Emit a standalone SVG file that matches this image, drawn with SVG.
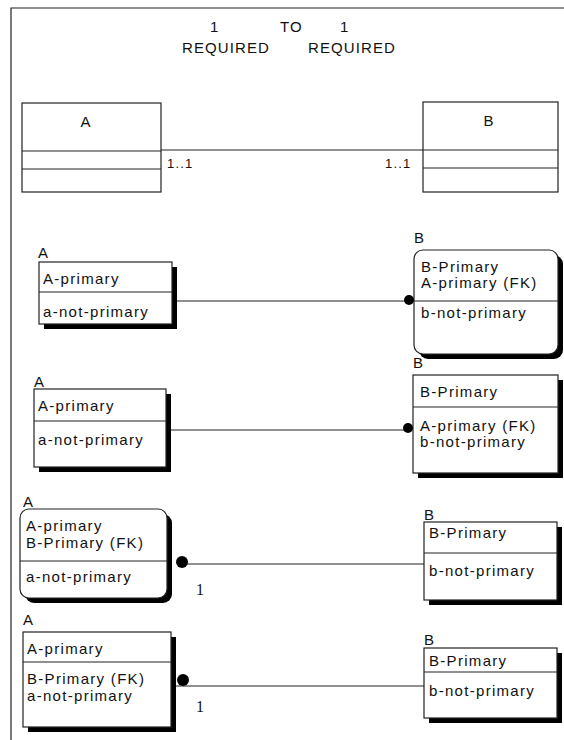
<svg xmlns="http://www.w3.org/2000/svg" width="564" height="740" viewBox="0 0 564 740">
<style>
  text { font-family: "Liberation Sans", Arial, sans-serif; fill: #111; }
  .t { font-size: 15px; letter-spacing: 1.1px; }
  .f { font-size: 15px; letter-spacing: 1.3px; }
  .c { font-size: 13px; letter-spacing: 1.2px; }
  .n { font-family: "Liberation Serif", serif; font-size: 16px; }
  .box { fill: #fff; stroke: #222; stroke-width: 1.2; }
  .sh { fill: #000; }
  .ln { stroke: #222; stroke-width: 1.2; fill: none; }
  .dot { fill: #000; }
</style>
<rect x="0" y="0" width="564" height="740" fill="#fff"/>
<g id="frame">
  <path d="M11,740 V8 H564" class="ln" stroke-width="2"/>
</g>
<g id="title">
  <text class="t" x="210" y="32">1</text>
  <text class="t" x="280" y="32">TO</text>
  <text class="t" x="340" y="32">1</text>
  <text class="t" x="182" y="53">REQUIRED</text>
  <text class="t" x="308" y="53">REQUIRED</text>
</g>
<g id="top-A">
  <rect class="box" x="22" y="103" width="139" height="89"/>
  <path class="ln" d="M22,151 H161 M22,169 H161"/>
  <text class="t" x="86" y="127" text-anchor="middle">A</text>
</g>
<g id="top-B">
  <rect class="box" x="423" y="102" width="135" height="90"/>
  <path class="ln" d="M423,150 H558 M423,168 H558"/>
  <text class="t" x="489" y="126" text-anchor="middle">B</text>
</g>
<g id="row2-A">
  <text class="f" x="38" y="258">A</text>
  <rect class="sh" x="44" y="267" width="133" height="62"/>
  <rect class="box" x="39" y="262" width="133" height="62"/>
  <path class="ln" d="M39,292 H172"/>
  <text class="f" x="43" y="284">A-primary</text>
  <text class="f" x="43" y="317">a-not-primary</text>
</g>
<g id="row2-B">
  <text class="f" x="414" y="243">B</text>
  <rect class="sh" x="419" y="255" width="144" height="104" rx="9"/>
  <rect class="box" x="414" y="250" width="144" height="104" rx="9"/>
  <path class="ln" d="M414,301 H558"/>
  <text class="f" x="421" y="272">B-Primary</text>
  <text class="f" x="421" y="288">A-primary (FK)</text>
  <text class="f" x="421" y="318">b-not-primary</text>
</g>
<g id="row3-A">
  <text class="f" x="34" y="387">A</text>
  <rect class="sh" x="39" y="394" width="132" height="78"/>
  <rect class="box" x="34" y="389" width="132" height="78"/>
  <path class="ln" d="M34,421 H166"/>
  <text class="f" x="38" y="411">A-primary</text>
  <text class="f" x="38" y="445">a-not-primary</text>
</g>
<g id="row3-B">
  <text class="f" x="413" y="368">B</text>
  <rect class="sh" x="418" y="380" width="145" height="98"/>
  <rect class="box" x="413" y="375" width="145" height="98"/>
  <path class="ln" d="M413,407 H558"/>
  <text class="f" x="420" y="397">B-Primary</text>
  <text class="f" x="420" y="431">A-primary (FK)</text>
  <text class="f" x="420" y="447">b-not-primary</text>
</g>
<g id="row4-A">
  <text class="f" x="23" y="507">A</text>
  <rect class="sh" x="25" y="514" width="147" height="89" rx="9"/>
  <rect class="box" x="20" y="509" width="147" height="89" rx="9"/>
  <path class="ln" d="M20,561 H167"/>
  <text class="f" x="26" y="531">A-primary</text>
  <text class="f" x="26" y="548">B-Primary (FK)</text>
  <text class="f" x="26" y="582">a-not-primary</text>
</g>
<g id="row4-B">
  <text class="f" x="424" y="520">B</text>
  <rect class="sh" x="429" y="527" width="133" height="78"/>
  <rect class="box" x="424" y="522" width="133" height="78"/>
  <path class="ln" d="M424,553 H557"/>
  <text class="f" x="429" y="538">B-Primary</text>
  <text class="f" x="429" y="576">b-not-primary</text>
</g>
<g id="row5-A">
  <text class="f" x="23" y="625">A</text>
  <rect class="sh" x="28" y="637" width="148" height="95"/>
  <rect class="box" x="23" y="632" width="148" height="95"/>
  <path class="ln" d="M23,662 H171"/>
  <text class="f" x="27" y="654">A-primary</text>
  <text class="f" x="27" y="684">B-Primary (FK)</text>
  <text class="f" x="27" y="701">a-not-primary</text>
</g>
<g id="row5-B">
  <text class="f" x="424" y="645">B</text>
  <rect class="sh" x="429" y="653" width="133" height="70"/>
  <rect class="box" x="424" y="648" width="133" height="70"/>
  <path class="ln" d="M424,672 H557"/>
  <text class="f" x="429" y="666">B-Primary</text>
  <text class="f" x="429" y="696">b-not-primary</text>
</g>
<g id="connectors">
  <path class="ln" d="M177,301 H408"/>
  <text class="c" x="167" y="168">1..1</text>
  <text class="c" x="385" y="168">1..1</text>
  <path class="ln" d="M161,150 H423"/>
  <circle class="dot" cx="409" cy="300" r="5"/>
  <path class="ln" d="M171,430 H408"/>
  <circle class="dot" cx="408" cy="428" r="5"/>
  <path class="ln" d="M182,564 H424"/>
  <circle class="dot" cx="182" cy="562" r="6"/>
  <text class="n" x="196" y="595">1</text>
  <path class="ln" d="M176,686 H424"/>
  <circle class="dot" cx="183" cy="680" r="6"/>
  <text class="n" x="196" y="712">1</text>
</g>
</svg>
